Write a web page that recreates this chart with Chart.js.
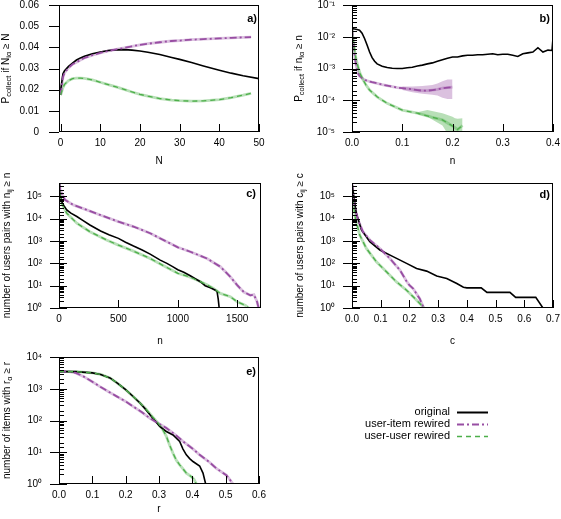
<!doctype html>
<html>
<head>
<meta charset="utf-8">
<title>collect probability panels</title>
<script src="https://cdn.jsdelivr.net/npm/chart.js"></script>
<style>
  html, body { margin: 0; padding: 0; background: #fff; }
  #wrap { position: relative; width: 561px; height: 519px; }
  #wrap canvas { position: absolute; left: 0; top: 0; }
</style>
</head>
<body>
<div id="wrap">
  <canvas id="pa" width="561" height="519"></canvas>
  <canvas id="pb" width="561" height="519"></canvas>
  <canvas id="pc" width="561" height="519"></canvas>
  <canvas id="pd" width="561" height="519"></canvas>
  <canvas id="pe" width="561" height="519"></canvas>
</div>
<script>
// ---- data ----

// a) P_collect if N_ia >= N
const aOrigN = [0, 0.6, 1, 2, 3, 4, 5, 6, 8, 10, 12, 14, 16, 18, 20, 22, 25, 28, 30, 33, 36, 40, 43, 46, 50];
const aOrig  = [0.0195, 0.0275, 0.029, 0.031, 0.0325, 0.034, 0.035, 0.0358, 0.037, 0.0378, 0.0385, 0.0388, 0.0389, 0.0387, 0.0383, 0.0377, 0.0366, 0.0352, 0.0343, 0.0328, 0.0312, 0.0292, 0.0278, 0.0266, 0.0252];
const aRewN  = [0, 0.6, 1, 2, 3, 4, 5, 6, 8, 10, 12, 14, 16, 18, 20, 22, 25, 28, 30, 33, 36, 40, 43, 46, 48];
const aItem  = [0.0175, 0.026, 0.028, 0.0303, 0.032, 0.033, 0.034, 0.035, 0.0363, 0.0374, 0.0383, 0.039, 0.0397, 0.0405, 0.0412, 0.0417, 0.0424, 0.043, 0.0432, 0.0436, 0.0439, 0.0442, 0.0445, 0.0447, 0.0448];
const aUser  = [0.0175, 0.021, 0.0225, 0.0243, 0.0252, 0.0255, 0.0255, 0.0253, 0.0246, 0.0235, 0.0224, 0.0213, 0.0201, 0.0189, 0.0178, 0.0169, 0.0158, 0.0151, 0.0148, 0.0146, 0.0147, 0.0153, 0.0162, 0.0174, 0.0183];

// b) P_collect if n_ia >= n
const bOrigX = [0, 0.005, 0.01, 0.015, 0.02, 0.025, 0.03, 0.035, 0.04, 0.045, 0.05, 0.06, 0.07, 0.08, 0.09, 0.1, 0.11, 0.12, 0.13, 0.14, 0.15, 0.16, 0.17, 0.18, 0.19, 0.2, 0.21, 0.22, 0.23, 0.24, 0.25, 0.26, 0.27, 0.28, 0.29, 0.3, 0.31, 0.32, 0.33, 0.34, 0.35, 0.36, 0.37, 0.38, 0.39, 0.398, 0.4];
const bOrig  = [0.018, 0.0175, 0.017, 0.016, 0.013, 0.0088, 0.0055, 0.0033, 0.0022, 0.0017, 0.0014, 0.00118, 0.00108, 0.00102, 0.001, 0.001, 0.00105, 0.0011, 0.0012, 0.00128, 0.0014, 0.0015, 0.0017, 0.0019, 0.0021, 0.0023, 0.0023, 0.0025, 0.0026, 0.0026, 0.0027, 0.0027, 0.0028, 0.0029, 0.0027, 0.0028, 0.0028, 0.0026, 0.0024, 0.0029, 0.0031, 0.0033, 0.0045, 0.0033, 0.0038, 0.0037, 0.009];
const bItemX = [0, 0.002, 0.004, 0.006, 0.009, 0.012, 0.015, 0.02, 0.025, 0.03, 0.04, 0.05, 0.06, 0.07, 0.08, 0.09, 0.1, 0.11, 0.12, 0.13, 0.14, 0.15, 0.16, 0.17, 0.18, 0.19, 0.2];
const bItem  = [0.018, 0.008, 0.004, 0.002, 0.0011, 0.0007, 0.00058, 0.0005, 0.00044, 0.00041, 0.00037, 0.00034, 0.00031, 0.00029, 0.00027, 0.00025, 0.00024, 0.00023, 0.00022, 0.00021, 0.0002, 0.0002, 0.00021, 0.00022, 0.00024, 0.00025, 0.00026];
const bItemBandX = [0.1, 0.12, 0.14, 0.16, 0.17, 0.18, 0.19, 0.2];
const bItemLo    = [0.00021, 0.00018, 0.00016, 0.00015, 0.00014, 0.00012, 0.00011, 0.00011];
const bItemHi    = [0.00027, 0.00027, 0.00028, 0.0003, 0.00034, 0.0004, 0.00045, 0.00045];
const bUserX = [0, 0.002, 0.005, 0.008, 0.012, 0.016, 0.022, 0.028, 0.035, 0.05, 0.07, 0.1, 0.13, 0.16, 0.18, 0.2, 0.21, 0.22];
const bUser  = [0.018, 0.008, 0.0038, 0.002, 0.00115, 0.0007, 0.00044, 0.0003, 0.00021, 0.000128, 0.00008, 0.000049, 0.000039, 0.000029, 0.000024, 0.0000155, 0.000012, 0.000016];
const bUserBandX = [0.13, 0.15, 0.18, 0.2, 0.205, 0.21, 0.22];
const bUserLo    = [0.000036, 0.00003, 0.000016, 0.000005, 0.000005, 0.000005, 0.000009];
const bUserHi    = [0.000042, 0.000049, 0.000039, 0.00003, 0.000027, 0.000026, 0.000027];

// c) number of user pairs with n_ij >= n
const cTicks = [0, 500, 1000, 1500];
const cOrigX = [0, 5, 10, 22, 40, 65, 100, 150, 200, 260, 350, 420, 500, 560, 627, 700, 767, 852, 908, 960, 1000, 1050, 1105, 1150, 1190, 1230, 1274, 1316, 1330, 1340, 1348];
const cOrig  = [398000, 158000, 100000, 58900, 39800, 25100, 17800, 12600, 8500, 5250, 2820, 1900, 1320, 890, 600, 400, 260, 140, 100, 70, 52, 40, 28, 20, 15, 10, 8, 6.3, 5.5, 2.5, 1];
const cItemX = [0, 10, 22, 50, 120, 233, 346, 500, 627, 767, 908, 1000, 1105, 1245, 1358, 1442, 1500, 1555, 1610, 1640, 1667, 1680];
const cItem  = [398000, 200000, 141000, 70800, 41700, 25100, 14800, 7400, 4470, 2240, 933, 525, 331, 166, 71, 25, 10.5, 5.2, 3.7, 4, 1.9, 1];
const cUserX = [0, 10, 22, 65, 150, 260, 400, 500, 627, 767, 908, 1000, 1105, 1170, 1245, 1300, 1358, 1442, 1500, 1570, 1597];
const cUser  = [316000, 100000, 50100, 17800, 6300, 2630, 1120, 660, 355, 166, 65, 36, 24, 17, 11, 7.5, 4.5, 3.2, 1.9, 1.3, 1];

// d) number of user pairs with c_ij >= c
const dOrigX = [0, 0.006, 0.015, 0.033, 0.062, 0.097, 0.143, 0.19, 0.225, 0.26, 0.295, 0.33, 0.365, 0.388, 0.4, 0.45, 0.47, 0.55, 0.57, 0.64, 0.665, 0.7];
const dOrig  = [398000, 100000, 17800, 3160, 933, 398, 200, 100, 59, 45, 27, 21, 12.6, 8.5, 8, 8, 5, 5, 3, 3, 1, 1];
const dItemX = [0, 0.004, 0.009, 0.021, 0.038, 0.062, 0.097, 0.132, 0.167, 0.19, 0.2, 0.213, 0.236, 0.25];
const dItem  = [398000, 100000, 35500, 8900, 2630, 1120, 468, 166, 50, 15.8, 10.5, 7.4, 2.6, 1];
const dUserX = [0, 0.003, 0.006, 0.013, 0.027, 0.05, 0.085, 0.12, 0.155, 0.19, 0.213, 0.236, 0.25];
const dUser  = [200000, 79000, 31600, 8900, 1860, 468, 117, 42, 14.8, 6.3, 3.2, 1.6, 1];

// e) number of items with r_a >= r
const eOrigX = [0, 0.05, 0.1, 0.125, 0.153, 0.175, 0.2, 0.22, 0.243, 0.26, 0.273, 0.29, 0.302, 0.322, 0.342, 0.362, 0.372, 0.382, 0.392, 0.402, 0.422, 0.432, 0.44];
const eOrig  = [3470, 3470, 3160, 2820, 2190, 1510, 933, 603, 355, 224, 151, 93, 65, 45, 35, 22, 12.6, 8.3, 6.3, 5.1, 3.7, 2.2, 1];
const eItemX = [0, 0.03, 0.05, 0.073, 0.1, 0.123, 0.15, 0.173, 0.2, 0.223, 0.25, 0.273, 0.3, 0.322, 0.35, 0.372, 0.4, 0.422, 0.45, 0.472, 0.502, 0.512, 0.522];
const eItem  = [3550, 3470, 3160, 2450, 1660, 1170, 794, 575, 398, 275, 178, 117, 79, 58, 35, 22, 13.2, 8.3, 5, 3.1, 1.9, 1.4, 1];
const eUserX = [0, 0.05, 0.1, 0.125, 0.153, 0.175, 0.2, 0.22, 0.243, 0.26, 0.273, 0.29, 0.302, 0.312, 0.322, 0.332, 0.342, 0.352, 0.362, 0.372, 0.382, 0.397, 0.405, 0.412];
const eUser  = [3470, 3470, 3160, 2820, 2190, 1510, 933, 603, 355, 234, 162, 100, 72, 50, 32, 16.6, 9.3, 5.6, 4, 3, 2.2, 1.7, 1.4, 1];

const seriesNames = ['original', 'user-item rewired', 'user-user rewired'];

// ---- styles ----
const W = 561, H = 519;
const FONT = '"Liberation Sans", Arial, sans-serif';
const BLACK = '#000000';
const PURPLE = '#984ea3', PURPLE_L = 'rgba(152,78,163,0.35)';
const GREEN = '#4daf4a', GREEN_L = 'rgba(77,175,74,0.4)';
const DASH_ITEM = [7, 3, 2, 3];
const DASH_USER = [5, 4];

Chart.defaults.font.family = FONT;
Chart.defaults.font.size = 10;
Chart.defaults.color = '#000';

const SUP = { '0': '⁰', '1': '¹', '2': '²', '3': '³', '4': '⁴', '5': '⁵', '6': '⁶', '7': '⁷', '8': '⁸', '9': '⁹', '-': '⁻' };
function pow10Label(v) {
  const e = Math.log10(v), r = Math.round(e);
  if (Math.abs(e - r) > 1e-6) return '';
  return '10' + String(r).split('').map(c => SUP[c]).join('');
}
function isPow10(v) {
  const e = Math.log10(v);
  return Math.abs(e - Math.round(e)) < 1e-6;
}

function pts(xs, ys) { return xs.map((x, i) => ({ x: x, y: ys[i] })); }
function line(xs, ys, color, width, dash) {
  return { data: pts(xs, ys), borderColor: color, borderWidth: width, borderDash: dash || [],
           pointRadius: 0, fill: false, tension: 0 };
}
function band(xs, ys, color) {
  return line(xs, ys, color, 2.8);
}
function fillBand(xs, lo, hi, color) {
  return [
    { data: pts(xs, lo), borderWidth: 0, borderColor: 'transparent', pointRadius: 0, fill: false },
    { data: pts(xs, hi), borderWidth: 0, borderColor: 'transparent', pointRadius: 0, fill: '-1', backgroundColor: color }
  ];
}

// text with subscript pieces, centred at (cx, cy), optionally rotated
function richText(ctx, parts, cx, cy, rotate) {
  const big = '10px ' + FONT, small = '7.5px ' + FONT;
  ctx.save();
  ctx.translate(cx, cy);
  if (rotate) ctx.rotate(-Math.PI / 2);
  ctx.fillStyle = '#000';
  ctx.textBaseline = 'middle';
  ctx.textAlign = 'left';
  let total = 0;
  parts.forEach(p => { ctx.font = p.sub ? small : big; total += ctx.measureText(p.t).width; });
  let x = -total / 2;
  parts.forEach(p => {
    ctx.font = p.sub ? small : big;
    ctx.fillText(p.t, x, p.sub ? 3 : 0);
    x += ctx.measureText(p.t).width;
  });
  ctx.restore();
}

function decoPlugin(deco) {
  return {
    id: 'deco',
    afterDraw(chart) {
      const ctx = chart.ctx, ca = chart.chartArea;
      const xs = chart.scales.x, ys = chart.scales.y;
      ctx.save();
      ctx.strokeStyle = '#000';
      ctx.lineWidth = 1;
      // frame
      ctx.strokeRect(Math.round(ca.left) + 0.5, Math.round(ca.top) + 0.5,
                     Math.round(ca.right - ca.left) - 1, Math.round(ca.bottom - ca.top) - 1);
      ctx.beginPath();
      // y ticks
      ys.ticks.forEach(t => {
        const py = Math.round(ys.getPixelForValue(t.value)) + 0.5;
        const major = ys.type !== 'logarithmic' || isPow10(t.value);
        if (major) {
          ctx.moveTo(ca.left - deco.yOut, py); ctx.lineTo(ca.left + deco.yIn, py);
        } else {
          ctx.moveTo(ca.left, py); ctx.lineTo(ca.left + deco.yMinor, py);
        }
      });
      // x ticks (inward)
      xs.ticks.forEach(t => {
        const px = Math.round(xs.getPixelForValue(t.value)) + 0.5;
        ctx.moveTo(px, ca.bottom); ctx.lineTo(px, ca.bottom - deco.xIn);
      });
      ctx.stroke();
      // panel tag
      ctx.fillStyle = '#000';
      ctx.font = 'bold 11px ' + FONT;
      ctx.textAlign = 'right';
      ctx.textBaseline = 'middle';
      ctx.fillText(deco.tag, deco.tagX, deco.tagY);
      ctx.restore();
      // axis titles
      richText(ctx, deco.yTitle, deco.yTitleX, (ca.top + ca.bottom) / 2, true);
      richText(ctx, [{ t: deco.xTitle }], (ca.left + ca.right) / 2, deco.xTitleY, false);
      if (deco.legend) deco.legend(ctx);
    }
  };
}

function panel(id, box, xOpt, yOpt, datasets, deco) {
  const YW = 40, XH = 20;
  const axisCommon = { grid: { display: false, drawTicks: false }, border: { display: false } };
  new Chart(document.getElementById(id), {
    type: 'line',
    data: { datasets: datasets },
    options: {
      responsive: false,
      animation: false,
      devicePixelRatio: 1,
      layout: { padding: { left: box.l - YW, top: box.t, right: W - box.r, bottom: H - box.b - XH } },
      plugins: { legend: { display: false }, tooltip: { enabled: false } },
      scales: {
        x: Object.assign({ type: 'linear', position: 'bottom',
          afterFit: s => { s.height = XH; s.paddingLeft = 0; s.paddingRight = 0; } }, axisCommon, xOpt),
        y: Object.assign({ position: 'left',
          afterFit: s => { s.width = YW; s.paddingTop = 0; s.paddingBottom = 0; } }, axisCommon, yOpt)
      }
    },
    plugins: [decoPlugin(deco)]
  });
}

const fix1 = v => v.toFixed(1);
const logY = (min, max) => ({ type: 'logarithmic', min: min, max: max,
  ticks: { autoSkip: false, padding: 17, callback: pow10Label } });
const linX = (min, max, step, cb) => ({ min: min, max: max,
  ticks: { stepSize: step, includeBounds: false, autoSkip: false, padding: 5, callback: cb } });

// a)
panel('pa', { l: 59, t: 5, r: 259, b: 132 },
  linX(-0.4, 50, 10, v => String(v)),
  { type: 'linear', min: 0, max: 0.06,
    ticks: { stepSize: 0.01, autoSkip: false, padding: 20, callback: v => v === 0 ? '0' : v.toFixed(2) } },
  [
    line(aRewN, aUser, GREEN, 1.3, DASH_USER),
    line(aRewN, aItem, PURPLE, 1.8, DASH_ITEM),
    line(aOrigN, aOrig, BLACK, 1.6),
    band(aRewN, aUser, GREEN_L),
    band(aRewN, aItem, PURPLE_L)
  ],
  { tag: 'a)', tagX: 257, tagY: 19, yOut: 10, yIn: 0, yMinor: 0, xIn: 8,
    yTitle: [{ t: 'P' }, { t: 'collect', sub: true }, { t: ' if N' }, { t: 'iα', sub: true }, { t: ' ≥ N' }],
    yTitleX: 6, xTitle: 'N', xTitleY: 161 });

// b)
panel('pb', { l: 352, t: 5, r: 553, b: 132 },
  linX(0, 0.4, 0.1, fix1),
  logY(1e-5, 1e-1),
  [
    line(bUserX, bUser, GREEN, 1.3, DASH_USER),
    line(bItemX, bItem, PURPLE, 1.8, DASH_ITEM),
    line(bOrigX, bOrig, BLACK, 1.6),
    band(bUserX, bUser, GREEN_L),
    band(bItemX, bItem, PURPLE_L)
  ].concat(fillBand(bUserBandX, bUserLo, bUserHi, GREEN_L), fillBand(bItemBandX, bItemLo, bItemHi, PURPLE_L)),
  { tag: 'b)', tagX: 550, tagY: 19, yOut: 9, yIn: 8, yMinor: 5, xIn: 8,
    yTitle: [{ t: 'P' }, { t: 'collect', sub: true }, { t: ' if n' }, { t: 'iα', sub: true }, { t: ' ≥ n' }],
    yTitleX: 299, xTitle: 'n', xTitleY: 161 });

// c)
const cX = linX(0, 1700, 500, v => String(v));
cX.afterBuildTicks = s => { s.ticks = cTicks.map(v => ({ value: v })); };
panel('pc', { l: 59, t: 183, r: 261, b: 308 },
  cX,
  logY(1, 4e5),
  [
    line(cUserX, cUser, GREEN, 1.3, DASH_USER),
    line(cItemX, cItem, PURPLE, 1.8, DASH_ITEM),
    line(cOrigX, cOrig, BLACK, 1.6),
    band(cUserX, cUser, GREEN_L),
    band(cItemX, cItem, PURPLE_L)
  ],
  { tag: 'c)', tagX: 256, tagY: 194, yOut: 9, yIn: 8, yMinor: 5, xIn: 8,
    yTitle: [{ t: 'number of users pairs with n' }, { t: 'ij', sub: true }, { t: ' ≥ n' }],
    yTitleX: 7, xTitle: 'n', xTitleY: 341 });

// d)
panel('pd', { l: 352, t: 183, r: 553, b: 308 },
  linX(0, 0.7, 0.1, fix1),
  logY(1, 4e5),
  [
    line(dUserX, dUser, GREEN, 1.3, DASH_USER),
    line(dItemX, dItem, PURPLE, 1.8, DASH_ITEM),
    line(dOrigX, dOrig, BLACK, 1.6),
    band(dUserX, dUser, GREEN_L),
    band(dItemX, dItem, PURPLE_L)
  ],
  { tag: 'd)', tagX: 550, tagY: 195, yOut: 9, yIn: 8, yMinor: 5, xIn: 8,
    yTitle: [{ t: 'number of users pairs with c' }, { t: 'ij', sub: true }, { t: ' ≥ c' }],
    yTitleX: 300, xTitle: 'c', xTitleY: 341 });

// e) + legend
function drawLegend(ctx) {
  const rows = [
    { name: seriesNames[0], color: BLACK, width: 2, dash: [] },
    { name: seriesNames[1], color: PURPLE, width: 2, dash: DASH_ITEM },
    { name: seriesNames[2], color: GREEN, width: 1.5, dash: DASH_USER }
  ];
  ctx.save();
  ctx.font = '11px ' + FONT;
  ctx.fillStyle = '#000';
  ctx.textAlign = 'right';
  ctx.textBaseline = 'middle';
  rows.forEach((r, i) => {
    const y = 412 + i * 12;
    ctx.fillText(r.name, 450, y);
    ctx.beginPath();
    ctx.strokeStyle = r.color;
    ctx.lineWidth = r.width;
    ctx.setLineDash(r.dash);
    ctx.moveTo(457, y + 0.5);
    ctx.lineTo(488, y + 0.5);
    ctx.stroke();
  });
  ctx.restore();
}

panel('pe', { l: 59, t: 357, r: 259, b: 484 },
  linX(0, 0.6, 0.1, fix1),
  logY(1, 1e4),
  [
    line(eUserX, eUser, GREEN, 1.3, DASH_USER),
    line(eItemX, eItem, PURPLE, 1.8, DASH_ITEM),
    line(eOrigX, eOrig, BLACK, 1.6),
    band(eUserX, eUser, GREEN_L),
    band(eItemX, eItem, PURPLE_L)
  ],
  { tag: 'e)', tagX: 256, tagY: 372, yOut: 9, yIn: 8, yMinor: 5, xIn: 8,
    yTitle: [{ t: 'number of items with r' }, { t: 'α', sub: true }, { t: ' ≥ r' }],
    yTitleX: 7, xTitle: 'r', xTitleY: 509, legend: drawLegend });
</script>
</body>
</html>
